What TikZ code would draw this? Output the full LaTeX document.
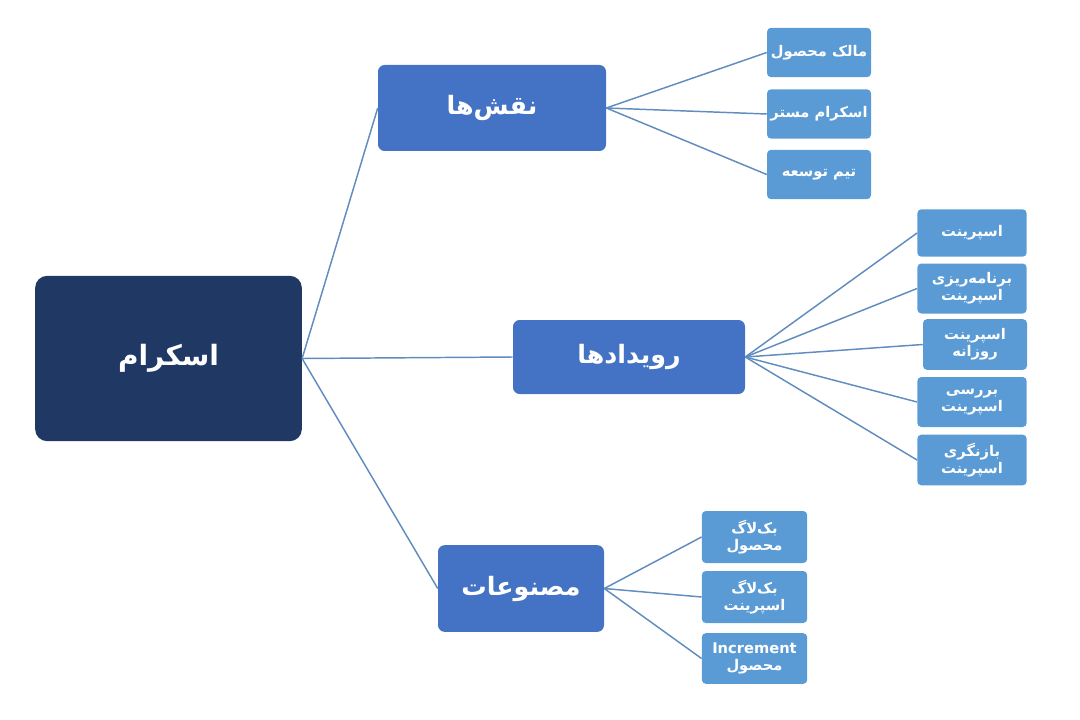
\documentclass[tikz,border=0pt]{standalone}
\usepackage{fontspec}
\newfontfamily\arabicfont[Script=Arabic]{DejaVu Sans}
\TeXXeTstate=1
\definecolor{rootblue}{RGB}{31,56,100}
\definecolor{midblue}{RGB}{68,114,196}
\definecolor{leafblue}{RGB}{91,155,213}
\definecolor{linkblue}{RGB}{96,140,190}
\tikzset{
  rootbox/.style={fill=rootblue, rounded corners=9pt, text=white, inner sep=0pt,
    minimum width=200pt, minimum height=124pt,
    font=\arabicfont\bfseries\fontsize{21}{25}\selectfont},
  midbox/.style={fill=midblue, rounded corners=5pt, text=white, inner sep=0pt,
    font=\arabicfont\bfseries\fontsize{19}{23}\selectfont},
  leafbox/.style={fill=leafblue, rounded corners=3pt, text=white, inner sep=0pt,
    align=center, font=\arabicfont\bfseries\fontsize{11}{12.5}\selectfont},
  link/.style={draw=linkblue, line width=1.1pt}
}
\begin{document}
\begin{tikzpicture}[x=0.75pt,y=0.75pt,yscale=-1,xscale=1]
\useasboundingbox (0,0) rectangle (1080,720);

% Root
\node [rootbox] (root) at (168.5,358.5) {\beginR اسکرام\endR};

% Middle boxes
\node [midbox, minimum width=171pt, minimum height=64.5pt] (roles) at (492,108) {\beginR نقش‌ها\endR};
\node [midbox, minimum width=174pt, minimum height=55.5pt] (events) at (629,357) {\beginR رویدادها\endR};
\node [midbox, minimum width=124.5pt, minimum height=65pt] (artifacts) at (521,588.5) {\beginR مصنوعات\endR};

% Roles
\node [leafbox, minimum width=78pt, minimum height=37pt] (r1) at (819,52.5) {\beginR مالک محصول\endR};
\node [leafbox, minimum width=78pt, minimum height=37pt] (r2) at (819,114) {\beginR اسکرام مستر\endR};
\node [leafbox, minimum width=78pt, minimum height=37pt] (r3) at (819,174.5) {\beginR تیم توسعه\endR};

% Events
\node [leafbox, minimum width=82pt, minimum height=35.5pt] (e1) at (972,233) {\beginR اسپرینت\endR};
\node [leafbox, minimum width=82pt, minimum height=37.5pt] (e2) at (972,288.5) {\beginR برنامه‌ریزی\endR\\\beginR اسپرینت\endR};
\node [leafbox, minimum width=78pt, minimum height=38pt] (e3) at (975,344.5) {\beginR اسپرینت\endR\\\beginR روزانه\endR};
\node [leafbox, minimum width=82pt, minimum height=37.5pt] (e4) at (972,402) {\beginR بررسی\endR\\\beginR اسپرینت\endR};
\node [leafbox, minimum width=82pt, minimum height=38pt] (e5) at (972,460) {\beginR بازنگری\endR\\\beginR اسپرینت\endR};

% Artifacts
\node [leafbox, minimum width=79pt, minimum height=39pt] (a1) at (754.5,537) {\beginR بک‌لاگ\endR\\\beginR محصول\endR};
\node [leafbox, minimum width=79pt, minimum height=39pt] (a2) at (754.5,597) {\beginR بک‌لاگ\endR\\\beginR اسپرینت\endR};
\node [leafbox, minimum width=79pt, minimum height=38pt] (a3) at (754.5,658.5) {Increment\\\beginR محصول\endR};

% Straight Lines
\draw [link] (root.east) -- (roles.west);
\draw [link] (root.east) -- (events.west);
\draw [link] (root.east) -- (artifacts.west);
\foreach \n in {r1,r2,r3} \draw [link] (roles.east) -- (\n.west);
\foreach \n in {e1,e2,e3,e4,e5} \draw [link] (events.east) -- (\n.west);
\foreach \n in {a1,a2,a3} \draw [link] (artifacts.east) -- (\n.west);

\end{tikzpicture}
\end{document}
